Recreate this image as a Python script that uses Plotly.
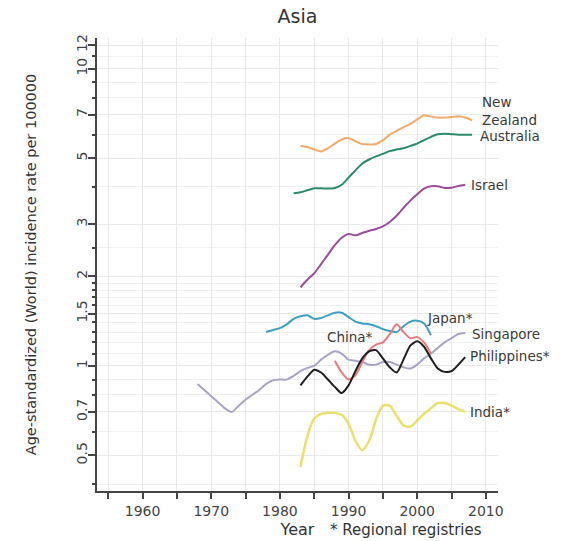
import math
import plotly.graph_objects as go

nz_years = list(range(1983, 2009))
nz_vals = [5.5, 5.45, 5.35, 5.27, 5.4, 5.6, 5.78, 5.84, 5.7, 5.58, 5.56, 5.58, 5.75,
           6.0, 6.18, 6.35, 6.52, 6.75, 6.97, 6.9, 6.85, 6.85, 6.88, 6.92, 6.85, 6.7]

au_years = list(range(1982, 2009))
au_vals = [3.81, 3.84, 3.9, 3.96, 3.96, 3.95, 3.97, 4.07, 4.3, 4.55, 4.8, 4.95, 5.07,
           5.17, 5.28, 5.35, 5.4, 5.5, 5.6, 5.75, 5.9, 6.02, 6.04, 6.02, 6.0, 6.0, 6.0]

il_years = list(range(1983, 2008))
il_vals = [1.84, 1.95, 2.05, 2.2, 2.37, 2.55, 2.7, 2.78, 2.75, 2.8, 2.85, 2.89, 2.95,
           3.05, 3.2, 3.4, 3.6, 3.78, 3.95, 4.02, 4.02, 3.97, 3.98, 4.03, 4.07]

jp_years = list(range(1978, 2003))
jp_vals = [1.3, 1.32, 1.34, 1.38, 1.44, 1.47, 1.48, 1.44, 1.45, 1.48, 1.51, 1.51, 1.46,
           1.41, 1.39, 1.38, 1.36, 1.33, 1.31, 1.30, 1.36, 1.41, 1.42, 1.39, 1.27]

cn_years = list(range(1988, 2003))
cn_vals = [1.04, 0.95, 0.9, 0.93, 1.03, 1.13, 1.18, 1.2, 1.28, 1.38, 1.3, 1.24, 1.25, 1.2, 1.1]

ph_years = list(range(1983, 2008))
ph_vals = [0.86, 0.92, 0.97, 0.95, 0.9, 0.85, 0.81, 0.86, 0.96, 1.06, 1.12, 1.13, 1.06,
           0.99, 0.95, 1.05, 1.17, 1.21, 1.16, 1.06, 0.98, 0.955, 0.96, 1.01, 1.07]

sg_years = list(range(1968, 2008))
sg_vals = [0.87, 0.83, 0.79, 0.755, 0.72, 0.70, 0.735, 0.77, 0.80, 0.83,
           0.87, 0.895, 0.9, 0.9, 0.925, 0.96, 0.985, 1.0, 1.05, 1.09,
           1.12, 1.1, 1.05, 1.04, 1.03, 1.01, 1.01, 1.03, 1.03, 1.01,
           0.99, 0.98, 1.01, 1.06, 1.1, 1.15, 1.2, 1.24, 1.28, 1.29]

in_years = list(range(1983, 2008))
in_vals = [0.457, 0.58, 0.665, 0.69, 0.695, 0.695, 0.685, 0.64, 0.56, 0.52, 0.56, 0.66,
           0.735, 0.735, 0.68, 0.63, 0.625, 0.655, 0.69, 0.72, 0.75, 0.75, 0.735, 0.715, 0.70]

series = [
    ("New Zealand", nz_years, nz_vals, "#F2AA6A", 2),
    ("Australia", au_years, au_vals, "#2B8A6C", 2),
    ("Israel", il_years, il_vals, "#9A4E98", 2),
    ("Japan*", jp_years, jp_vals, "#3E9FC2", 2),
    ("Singapore", sg_years, sg_vals, "#A9A3C8", 2),
    ("India*", in_years, in_vals, "#E9E06E", 2.5),
    ("China*", cn_years, cn_vals, "#E87B7B", 2),
    ("Philippines*", ph_years, ph_vals, "#1E1E1E", 2),
]

# label name, x (year), y (value)
label_names = ["New<br>Zealand", "Australia", "Israel", "Japan*", "China*",
               "Singapore", "Philippines*", "India*"]
label_x = [2009.1, 2008.8, 2007.6, 2001.1, 1986.5, 2007.7, 2007.4, 2007.4]
label_y = [7.22, 5.93, 4.07, 1.45, 1.25, 1.28, 1.08, 0.70]

y_major = [0.5, 0.7, 1, 1.5, 2, 3, 5, 7, 10, 12]
y_major_text = ["0.5", "0.7", "1", "1.5", "2", "3", "5", "7", "10", "12"]
y_minor = [0.4, 0.6, 0.8, 0.9, 1.1, 1.2, 1.3, 1.4, 1.6, 1.7, 1.8, 1.9, 2.5, 4, 6, 8, 9, 11]

x_ticks = list(range(1955, 2011, 5))
x_text = [str(v) if v % 10 == 0 else "" for v in x_ticks]

FONT = "DejaVu Sans"
fig = go.Figure()
for name, xs, ys, col, w in series:
    fig.add_trace(go.Scatter(x=xs, y=ys, mode="lines", name=name,
                             line=dict(color=col, width=w, shape="spline", smoothing=0.7),
                             showlegend=False, hoverinfo="x+y+name"))

for t, x, y in zip(label_names, label_x, label_y):
    fig.add_annotation(x=x, y=math.log10(y), yref="y", xref="x", text=t, showarrow=False,
                       xanchor="left", yanchor="middle", align="left",
                       font=dict(family=FONT, size=13.5, color="#3a3a3a"))

fig.add_annotation(x=0.575, y=-0.1104, xref="paper", yref="paper",
                   text="* Regional registries", showarrow=False,
                   xanchor="left", yanchor="bottom",
                   font=dict(family=FONT, size=15, color="#333333"))

fig.update_layout(
    width=577, height=541,
    margin=dict(l=97, r=79, t=38, b=50),
    paper_bgcolor="white", plot_bgcolor="white",
    title=dict(text="Asia", x=0.5, xref="paper", xanchor="center",
               y=1 - 16 / 541, yanchor="middle",
               font=dict(family=FONT, size=19, color="#333333")),
    xaxis=dict(range=[1953.36, 2011.77], tickmode="array", tickvals=x_ticks,
               ticktext=x_text, ticks="outside", ticklen=6, tickwidth=1.5,
               tickcolor="#444", showline=True, linecolor="#444", linewidth=2,
               showgrid=True, gridcolor="#e9e9e9", gridwidth=1, zeroline=False,
               automargin=False,
               tickfont=dict(family=FONT, size=14, color="#444"),
               title=dict(text="Year", standoff=6,
                          font=dict(family=FONT, size=16, color="#333"))),
    yaxis=dict(type="log", range=[-0.4209, 1.1034], tickmode="array",
               tickvals=y_major, ticktext=y_major_text, tickangle=-90,
               ticks="outside", ticklen=7, tickwidth=1.5, tickcolor="#444",
               showline=True, linecolor="#444", linewidth=2,
               showgrid=True, gridcolor="#e9e9e9", gridwidth=1, zeroline=False,
               automargin=False, ticklabelstandoff=-5,
               tickfont=dict(family=FONT, size=14, color="#444"),
               minor=dict(tickmode="array", tickvals=y_minor, ticks="outside",
                          ticklen=3, tickcolor="#444", showgrid=True,
                          gridcolor="#f0f0f0", gridwidth=1),
               title=dict(text="Age-standardized (World) incidence rate per 100000",
                          standoff=34,
                          font=dict(family=FONT, size=14.5, color="#333"))),
)

fig.write_html("out.html", config={"displayModeBar": False},
               post_script="document.body.style.margin='0';")
